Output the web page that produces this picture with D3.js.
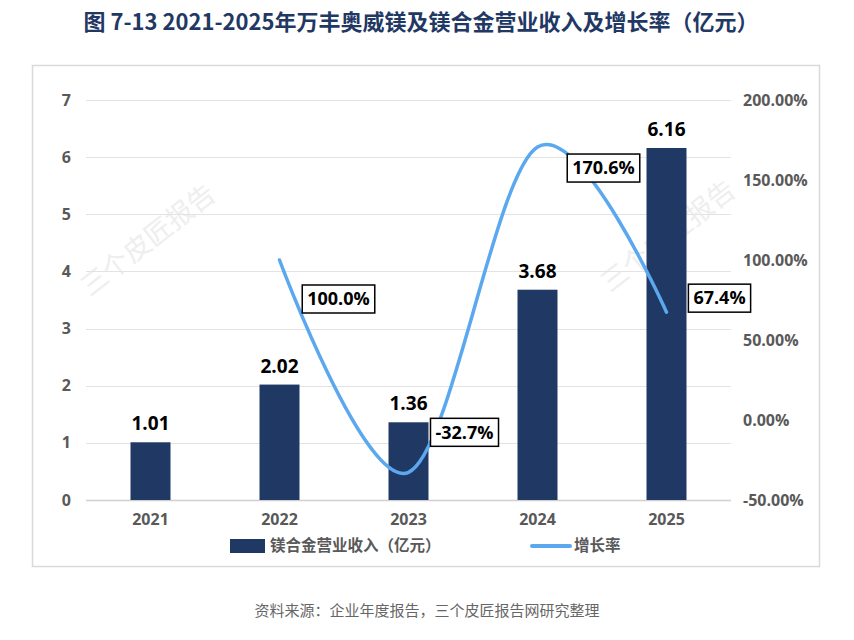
<!DOCTYPE html>
<meta charset="utf-8">
<style>
body { margin: 0; background: #fff; font-family: "Noto Sans CJK SC", "Open Sans", sans-serif; }
.tick text { fill: #595959; font-weight: bold; font-size: 16px; font-family: "Open Sans", "Noto Sans CJK SC", sans-serif; }
.bar-label { font-weight: bold; font-size: 19px; fill: #000; font-family: "Open Sans", sans-serif; }
.rate-label { font-weight: bold; font-size: 18px; fill: #000; font-family: "Open Sans", sans-serif; }
</style>
<body>
<script src="https://d3js.org/d3.v7.min.js"></script>
<script>
// data
var years = ["2021", "2022", "2023", "2024", "2025"];
var revenue = [1.01, 2.02, 1.36, 3.68, 6.16];
var growthYears = ["2022", "2023", "2024", "2025"];
var growth = [100.0, -32.7, 170.6, 67.4];
var leftTicks = [0, 1, 2, 3, 4, 5, 6, 7];
var rightTicks = [-50, 0, 50, 100, 150, 200];

(function () {
    var width = 854, height = 640;
    var svg = d3.select("body").append("svg")
        .attr("width", width).attr("height", height);

    // title
    svg.append("text")
        .attr("x", 421).attr("y", 30)
        .attr("text-anchor", "middle")
        .style("font-size", "22px").style("font-weight", "bold")
        .style("fill", "#1f3864")
        .text("图 7-13 2021-2025年万丰奥威镁及镁合金营业收入及增长率（亿元）");

    // frame
    svg.append("rect")
        .attr("x", 32.5).attr("y", 65.5).attr("width", 787).attr("height", 501)
        .attr("fill", "none").attr("stroke", "#d9d9d9").attr("stroke-width", 1.5);

    var pLeft = 86, pRight = 731, pTop = 100, pBottom = 500;

    var x = d3.scaleBand().domain(years).range([pLeft, pRight]).paddingInner(0.69).paddingOuter(0.345);
    var y = d3.scaleLinear().domain([0, 7]).range([pBottom, pTop]);
    var y2 = d3.scaleLinear().domain([-50, 200]).range([pBottom, pTop]);

    // watermarks
    [[148, 240], [668, 236]].forEach(function (p) {
        svg.append("text")
            .attr("transform", "translate(" + p[0] + "," + p[1] + ") rotate(-38)")
            .attr("text-anchor", "middle").attr("dy", "0.35em")
            .style("font-size", "27px").style("fill", "#eeeeee")
            .text("三个皮匠报告");
    });

    // gridlines
    svg.append("g")
        .selectAll("line").data(leftTicks).enter().append("line")
        .attr("x1", pLeft).attr("x2", pRight)
        .attr("y1", function (d) { return Math.round(y(d)) + 0.5; })
        .attr("y2", function (d) { return Math.round(y(d)) + 0.5; })
        .attr("stroke", function (d) { return d === 0 ? "#d0d0d0" : "#e3e3e3"; })
        .attr("stroke-width", function (d) { return d === 0 ? 1.5 : 1; });

    // axes
    var gl = svg.append("g").attr("transform", "translate(" + (pLeft - 12) + ",0)")
        .call(d3.axisLeft(y).tickValues(leftTicks).tickSize(0).tickFormat(d3.format("d")));
    gl.select(".domain").remove();

    var gr = svg.append("g").attr("transform", "translate(" + (pRight + 9) + ",0)")
        .call(d3.axisRight(y2).tickValues(rightTicks).tickSize(0)
            .tickFormat(function (d) { return d.toFixed(2) + "%"; }));
    gr.select(".domain").remove();

    var gx = svg.append("g").attr("transform", "translate(0," + (pBottom + 11) + ")")
        .call(d3.axisBottom(x).tickSize(0));
    gx.select(".domain").remove();

    // bars
    svg.selectAll(".bar").data(revenue).enter().append("rect")
        .attr("class", "bar")
        .attr("x", function (d, i) { return x(years[i]); })
        .attr("width", x.bandwidth())
        .attr("y", function (d) { return y(d); })
        .attr("height", function (d) { return pBottom - y(d); })
        .attr("fill", "#1f3864");

    svg.selectAll(".bar-label").data(revenue).enter().append("text")
        .attr("class", "bar-label")
        .attr("x", function (d, i) { return x(years[i]) + x.bandwidth() / 2; })
        .attr("y", function (d) { return y(d) - 12; })
        .attr("text-anchor", "middle")
        .text(function (d) { return d.toFixed(2); });

    // growth line
    var cx = function (yr) { return x(yr) + x.bandwidth() / 2; };
    var line = d3.line()
        .x(function (d, i) { return cx(growthYears[i]); })
        .y(function (d) { return y2(d); })
        .curve(d3.curveCardinal.tension(0));
    svg.append("path").datum(growth)
        .attr("d", line)
        .attr("fill", "none").attr("stroke", "#5ba8ee")
        .attr("stroke-width", 3.5).attr("stroke-linecap", "round");

    // growth labels (boxed)
    var offsets = [[59, 39], [56, -40], [66, 21], [53, -14]];
    growth.forEach(function (d, i) {
        var px = cx(growthYears[i]) + offsets[i][0];
        var py = y2(d) + offsets[i][1];
        var g = svg.append("g").attr("transform", "translate(" + px + "," + py + ")");
        var t = g.append("text").attr("class", "rate-label")
            .attr("text-anchor", "middle").attr("dy", "0.35em")
            .text(d.toFixed(1) + "%");
        var w = t.node().getComputedTextLength() + 10;
        g.insert("rect", "text")
            .attr("x", -w / 2).attr("y", -14).attr("width", w).attr("height", 28)
            .attr("fill", "#fff").attr("stroke", "#000").attr("stroke-width", 1.5);
    });

    // legend
    var leg = svg.append("g").attr("transform", "translate(0,546)");
    leg.append("rect").attr("x", 230).attr("y", -7).attr("width", 35).attr("height", 14).attr("fill", "#1f3864");
    leg.append("text").attr("x", 270).attr("dy", "0.35em")
        .style("font-size", "15.5px").style("font-weight", "bold").style("fill", "#595959")
        .text("镁合金营业收入（亿元）");
    leg.append("line").attr("x1", 532).attr("x2", 570).attr("y1", 0).attr("y2", 0)
        .attr("stroke", "#5ba8ee").attr("stroke-width", 4).attr("stroke-linecap", "round");
    leg.append("text").attr("x", 574).attr("dy", "0.35em")
        .style("font-size", "15.5px").style("font-weight", "bold").style("fill", "#595959")
        .text("增长率");

    // source
    svg.append("text")
        .attr("x", 427).attr("y", 616).attr("text-anchor", "middle")
        .style("font-size", "15px").style("fill", "#666")
        .text("资料来源：企业年度报告，三个皮匠报告网研究整理");
})();
</script>
</body>
